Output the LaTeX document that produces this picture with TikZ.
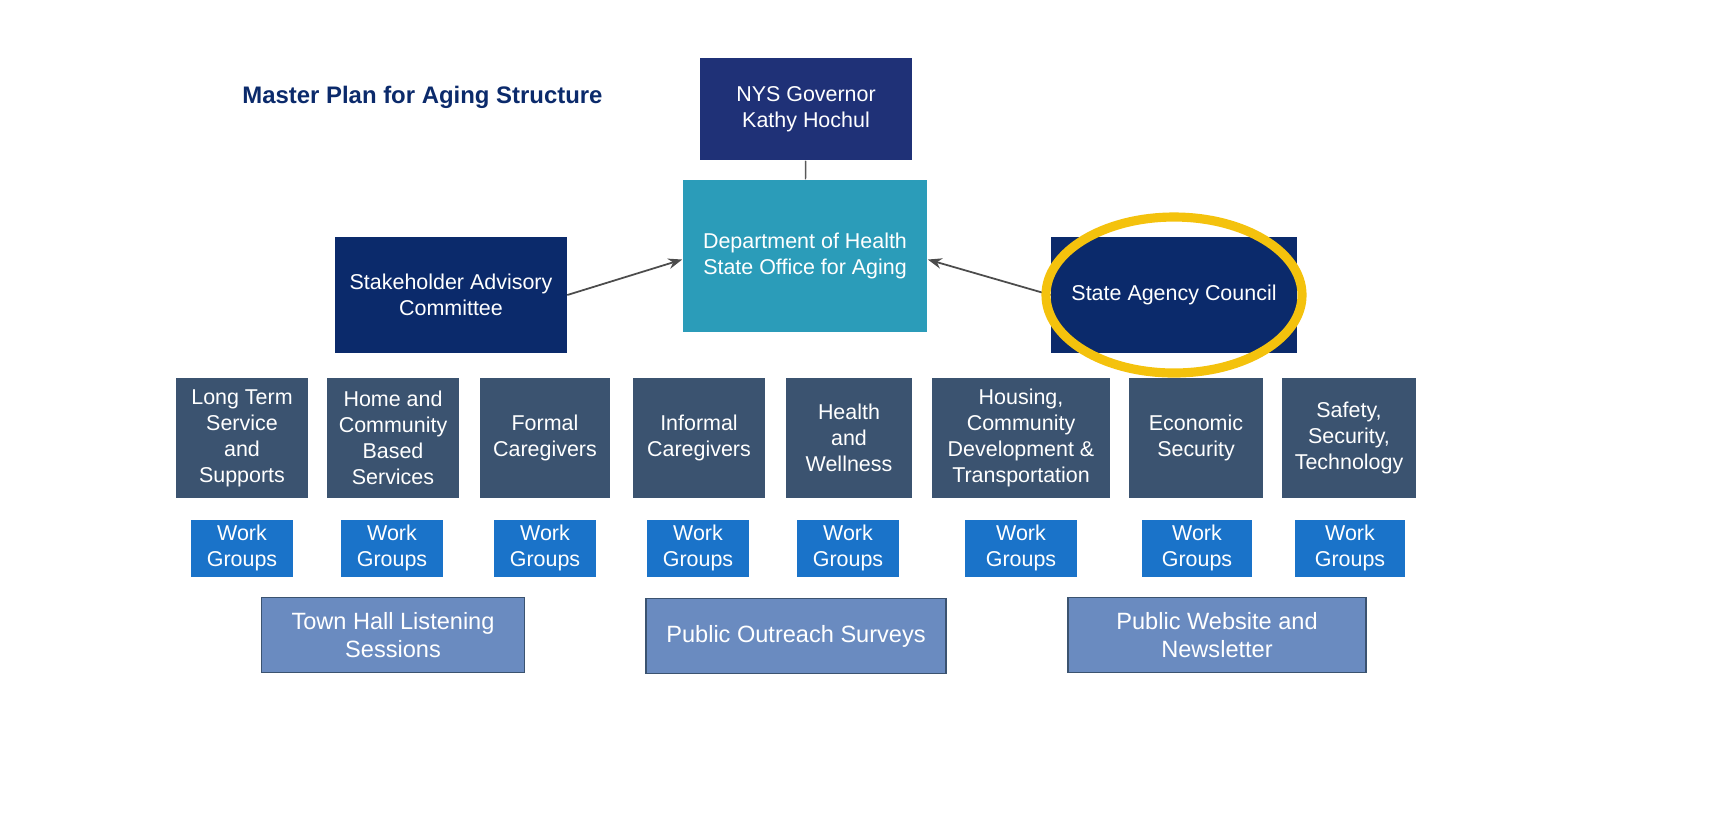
\documentclass[tikz,border=0pt]{standalone}
\usepackage{fontspec}
\setmainfont{Liberation Sans}
\usepackage{tikz}
\usetikzlibrary{arrows.meta,positioning}
\definecolor{navy}{HTML}{0B2A6B}
\definecolor{govblue}{HTML}{1F3177}
\definecolor{teal}{HTML}{2B9CB9}
\definecolor{slate}{HTML}{3B5370}
\definecolor{wgblue}{HTML}{1A73C9}
\definecolor{pubblue}{HTML}{6A8BC0}
\definecolor{ringgold}{HTML}{F4C20D}

\begin{document}
\begin{tikzpicture}[x=0.01cm,y=-0.01cm]
	\useasboundingbox (0,0) rectangle (1713,826);
	\begin{scope}[every node/.style={align=center,text=white,inner sep=1pt,font=\fontsize{6.1}{7.4}\selectfont}]
		\node[fill=govblue,minimum width=2.12cm,minimum height=1.02cm] (gov) at (806,109) {NYS Governor\\Kathy Hochul};
		\node[fill=teal,minimum width=2.44cm,minimum height=1.52cm] (doh) at (805,256) {Department of Health\\State Office for Aging};
		\node[fill=navy,minimum width=2.31cm,minimum height=1.15cm] (sac) at (451,295) {Stakeholder Advisory\\Committee};
		\node[fill=navy,minimum width=2.45cm,minimum height=1.15cm] (council) at (1174,295) {State Agency Council};
	\end{scope}
	\begin{scope}[every node/.style={align=center,text=white,inner sep=1pt,fill=slate,minimum height=1.2cm,font=\fontsize{6.1}{7.4}\selectfont}]
		\node[minimum width=1.32cm] (ltss) at (242,438) {Long Term\\Service\\and\\Supports};
		\node[minimum width=1.31cm] (hcbs) at (393,438) {Home and\\Community\\Based\\Services};
		\node[minimum width=1.30cm] (formal) at (545,438) {Formal\\Caregivers};
		\node[minimum width=1.32cm] (informal) at (699,438) {Informal\\Caregivers};
		\node[minimum width=1.25cm] (health) at (849,438) {Health\\and\\Wellness};
		\node[minimum width=1.78cm] (housing) at (1021,438) {Housing,\\Community\\Development \&\\Transportation};
		\node[minimum width=1.33cm] (econ) at (1196,438) {Economic\\Security};
		\node[minimum width=1.33cm] (safety) at (1349,438) {Safety,\\Security,\\Technology};
	\end{scope}
	\begin{scope}[every node/.style={align=center,text=white,inner sep=1pt,fill=wgblue,minimum height=0.57cm,font=\fontsize{6.1}{7.4}\selectfont}]
		\node[minimum width=1.02cm] (wg1) at (242,548) {Work\\Groups};
		\node[minimum width=1.01cm] (wg2) at (392,548) {Work\\Groups};
		\node[minimum width=1.02cm] (wg3) at (545,548) {Work\\Groups};
		\node[minimum width=1.02cm] (wg4) at (698,548) {Work\\Groups};
		\node[minimum width=1.02cm] (wg5) at (848,548) {Work\\Groups};
		\node[minimum width=1.11cm] (wg6) at (1021,548) {Work\\Groups};
		\node[minimum width=1.10cm] (wg7) at (1197,548) {Work\\Groups};
		\node[minimum width=1.10cm] (wg8) at (1350,548) {Work\\Groups};
	\end{scope}
	\begin{scope}[every node/.style={align=center,text=white,inner sep=1pt,fill=pubblue,draw=slate,minimum height=0.75cm,font=\fontsize{6.7}{8.2}\selectfont}]
		\node[minimum width=2.63cm] (townhall) at (393,635) {Town Hall Listening\\Sessions};
		\node[minimum width=3.00cm] (surveys) at (796,636) {Public Outreach Surveys};
		\node[minimum width=2.98cm] (website) at (1217,635) {Public Website and\\Newsletter};
	\end{scope}
	\node[text=navy,font=\bfseries\fontsize{6.8}{8}\selectfont,anchor=west] (title) at (230,97) {Master Plan for Aging Structure};
	\draw[gray!70!black,line width=0.4pt] (gov) -- (doh);
	\draw[-{Stealth[length=4pt]},gray!60!black,line width=0.5pt] (sac.east) -- ([yshift=-1pt]doh.west);
	\draw[-{Stealth[length=4pt]},gray!60!black,line width=0.5pt] (council.west) -- ([yshift=-1pt]doh.east);
	\draw[ringgold,line width=2.6pt] (council.center) ellipse [x radius=128,y radius=78];
\end{tikzpicture}
\end{document}
